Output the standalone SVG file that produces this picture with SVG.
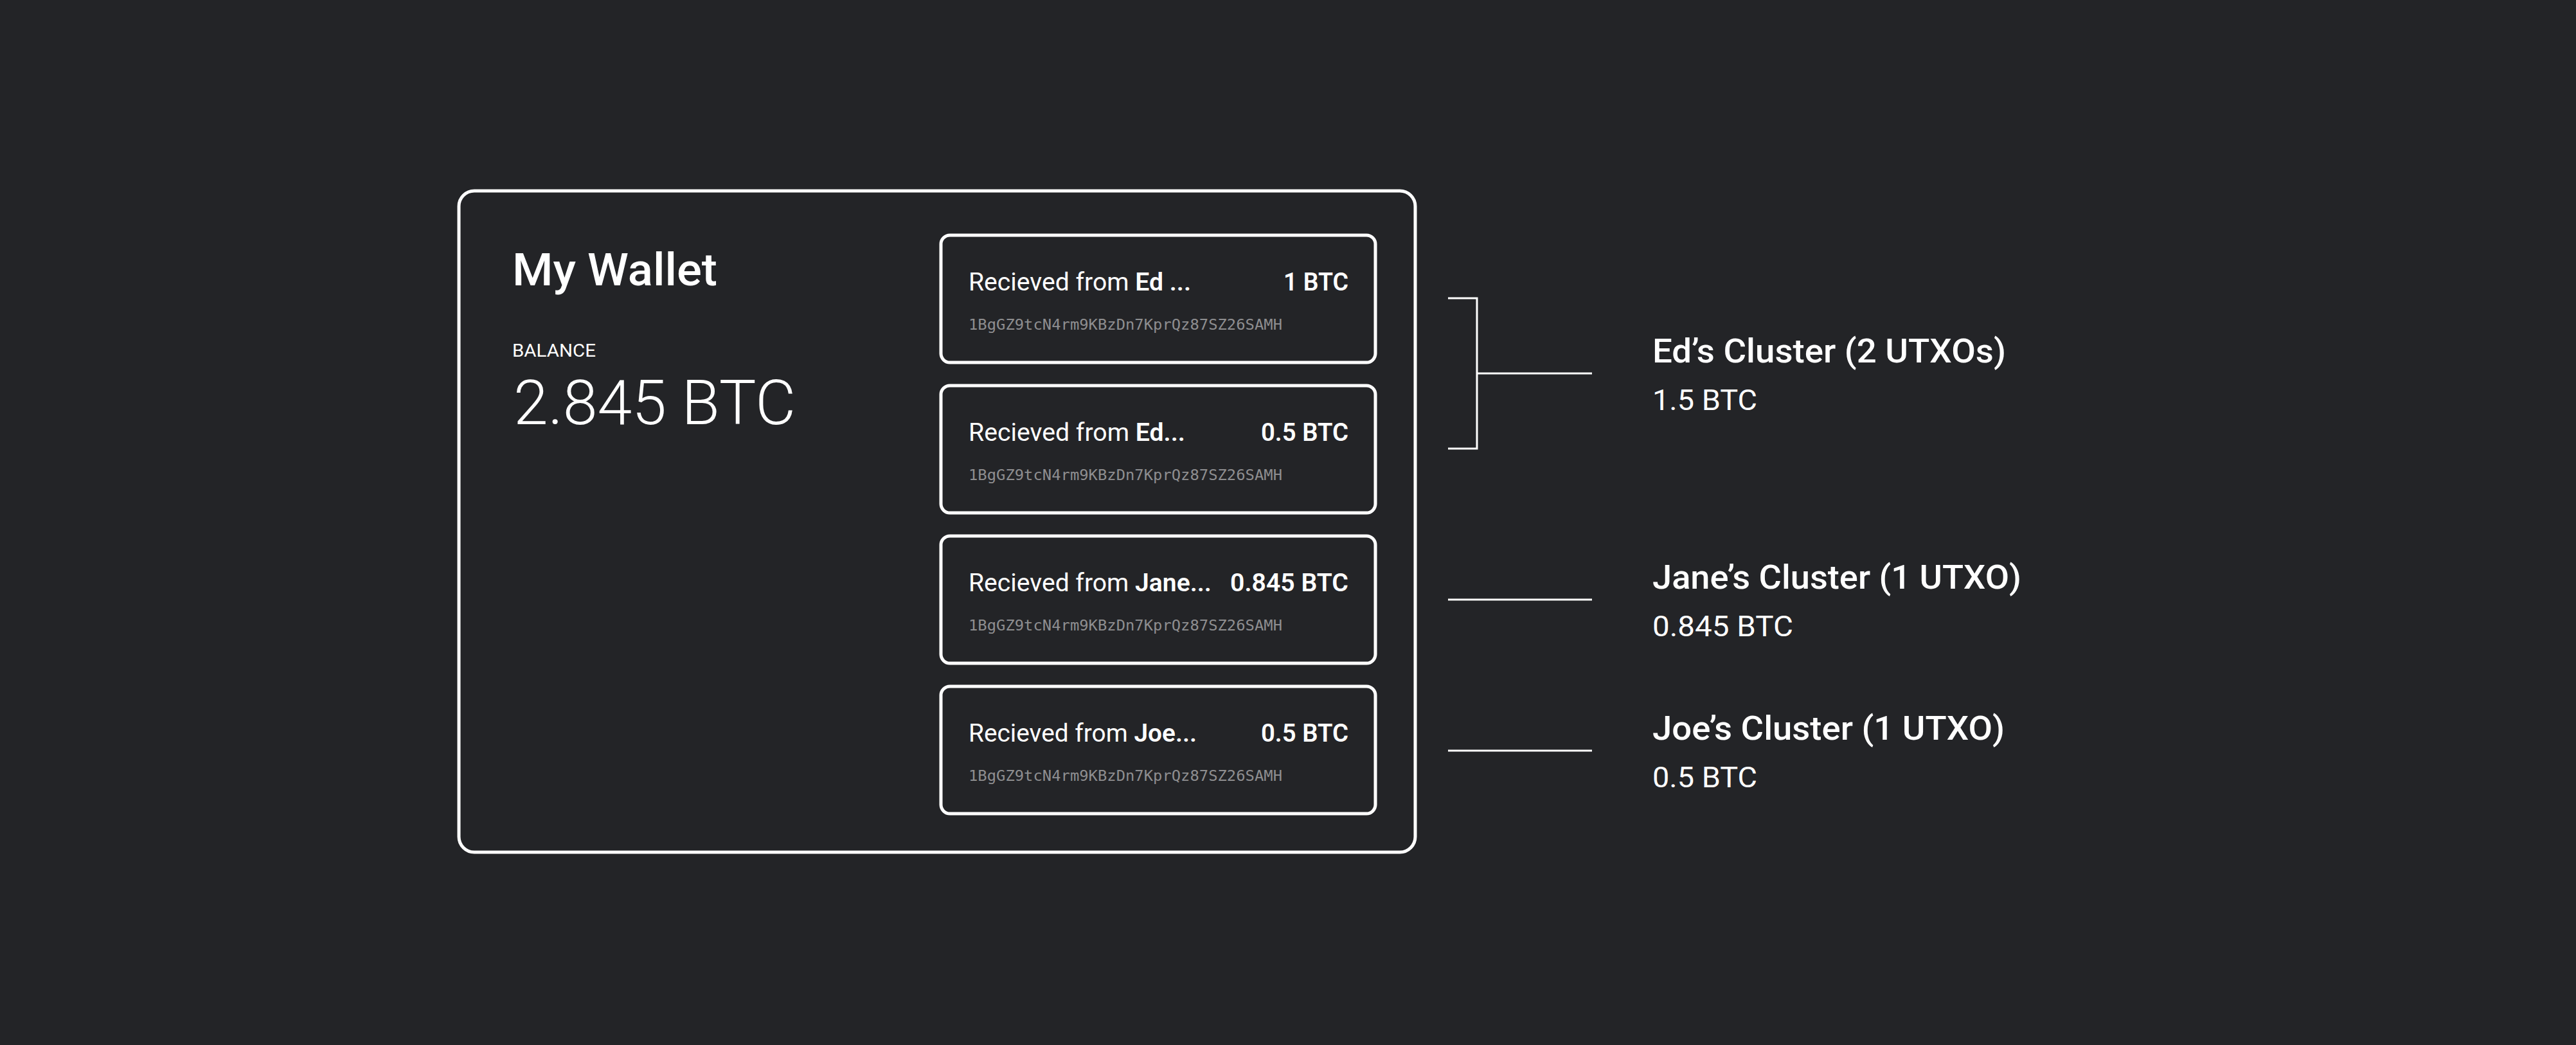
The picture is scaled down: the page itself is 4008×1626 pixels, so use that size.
<svg xmlns="http://www.w3.org/2000/svg" width="4008" height="1626" viewBox="0 0 4008 1626">
  <style>
    .bg { fill: #232427; }
    .box { fill: #232427; stroke: #ffffff; stroke-width: 5; }
    .card { fill: #232427; stroke: #ffffff; stroke-width: 5; }
    .conn { fill: none; stroke: #ffffff; stroke-width: 3; }
    .sans { font-family: Roboto, "Noto Sans", "Liberation Sans", sans-serif; fill: #ffffff; }
    .title { font-size: 70px; font-weight: 500; }
    .label { font-size: 28px; font-weight: 400; }
    .balance { font-size: 96px; font-weight: 300; }
    .ct { font-size: 39px; font-weight: 400; }
    .b { font-weight: 600; }
    .amt { font-size: 39px; font-weight: 600; text-anchor: end; }
    .addr { font-family: "DejaVu Sans Mono", "Liberation Mono", monospace; font-size: 23px; fill: #8e8e90; }
    .cl { font-size: 52px; font-weight: 500; }
    .cv { font-size: 45px; font-weight: 400; }
  </style>
  <rect class="bg" x="0" y="0" width="4008" height="1626"/>

  <g id="wallet">
    <rect class="box" x="714" y="297" width="1488" height="1029" rx="24" ry="24"/>
    <text class="sans title" x="797" y="444" textLength="319" lengthAdjust="spacingAndGlyphs">My Wallet</text>
    <text class="sans label" x="797" y="555" textLength="130" lengthAdjust="spacingAndGlyphs">BALANCE</text>
    <text class="sans balance" x="799" y="660" textLength="439" lengthAdjust="spacingAndGlyphs">2.845 BTC</text>
  </g>

  <g id="card-1">
    <rect class="card" x="1464" y="366" width="676" height="198" rx="14" ry="14"/>
    <text class="sans ct" x="1507" y="452" textLength="346" lengthAdjust="spacingAndGlyphs">Recieved from <tspan class="b">Ed ...</tspan></text>
    <text class="sans amt" x="2098" y="452" textLength="101" lengthAdjust="spacingAndGlyphs">1 BTC</text>
    <text class="addr" x="1507" y="513" textLength="488" lengthAdjust="spacingAndGlyphs">1BgGZ9tcN4rm9KBzDn7KprQz87SZ26SAMH</text>
  </g>

  <g id="card-2">
    <rect class="card" x="1464" y="600" width="676" height="198" rx="14" ry="14"/>
    <text class="sans ct" x="1507" y="686" textLength="337" lengthAdjust="spacingAndGlyphs">Recieved from <tspan class="b">Ed...</tspan></text>
    <text class="sans amt" x="2098" y="686" textLength="136" lengthAdjust="spacingAndGlyphs">0.5 BTC</text>
    <text class="addr" x="1507" y="747" textLength="488" lengthAdjust="spacingAndGlyphs">1BgGZ9tcN4rm9KBzDn7KprQz87SZ26SAMH</text>
  </g>

  <g id="card-3">
    <rect class="card" x="1464" y="834" width="676" height="198" rx="14" ry="14"/>
    <text class="sans ct" x="1507" y="920" textLength="378" lengthAdjust="spacingAndGlyphs">Recieved from <tspan class="b">Jane...</tspan></text>
    <text class="sans amt" x="2098" y="920" textLength="184" lengthAdjust="spacingAndGlyphs">0.845 BTC</text>
    <text class="addr" x="1507" y="981" textLength="488" lengthAdjust="spacingAndGlyphs">1BgGZ9tcN4rm9KBzDn7KprQz87SZ26SAMH</text>
  </g>

  <g id="card-4">
    <rect class="card" x="1464" y="1068" width="676" height="198" rx="14" ry="14"/>
    <text class="sans ct" x="1507" y="1154" textLength="355" lengthAdjust="spacingAndGlyphs">Recieved from <tspan class="b">Joe...</tspan></text>
    <text class="sans amt" x="2098" y="1154" textLength="136" lengthAdjust="spacingAndGlyphs">0.5 BTC</text>
    <text class="addr" x="1507" y="1215" textLength="488" lengthAdjust="spacingAndGlyphs">1BgGZ9tcN4rm9KBzDn7KprQz87SZ26SAMH</text>
  </g>

  <g id="connectors">
    <path class="conn" d="M2253 464 H2298 V698 H2253"/>
    <path class="conn" d="M2298 581 H2477"/>
    <path class="conn" d="M2253 933 H2477"/>
    <path class="conn" d="M2253 1168 H2477"/>
  </g>

  <g id="cluster-ed">
    <text class="sans cl" x="2571" y="564" textLength="550" lengthAdjust="spacingAndGlyphs">Ed’s Cluster (2 UTXOs)</text>
    <text class="sans cv" x="2571" y="638" textLength="163" lengthAdjust="spacingAndGlyphs">1.5 BTC</text>
  </g>

  <g id="cluster-jane">
    <text class="sans cl" x="2571" y="916" textLength="574" lengthAdjust="spacingAndGlyphs">Jane’s Cluster (1 UTXO)</text>
    <text class="sans cv" x="2571" y="990" textLength="219" lengthAdjust="spacingAndGlyphs">0.845 BTC</text>
  </g>

  <g id="cluster-joe">
    <text class="sans cl" x="2571" y="1151" textLength="548" lengthAdjust="spacingAndGlyphs">Joe’s Cluster (1 UTXO)</text>
    <text class="sans cv" x="2571" y="1225" textLength="163" lengthAdjust="spacingAndGlyphs">0.5 BTC</text>
  </g>
</svg>
